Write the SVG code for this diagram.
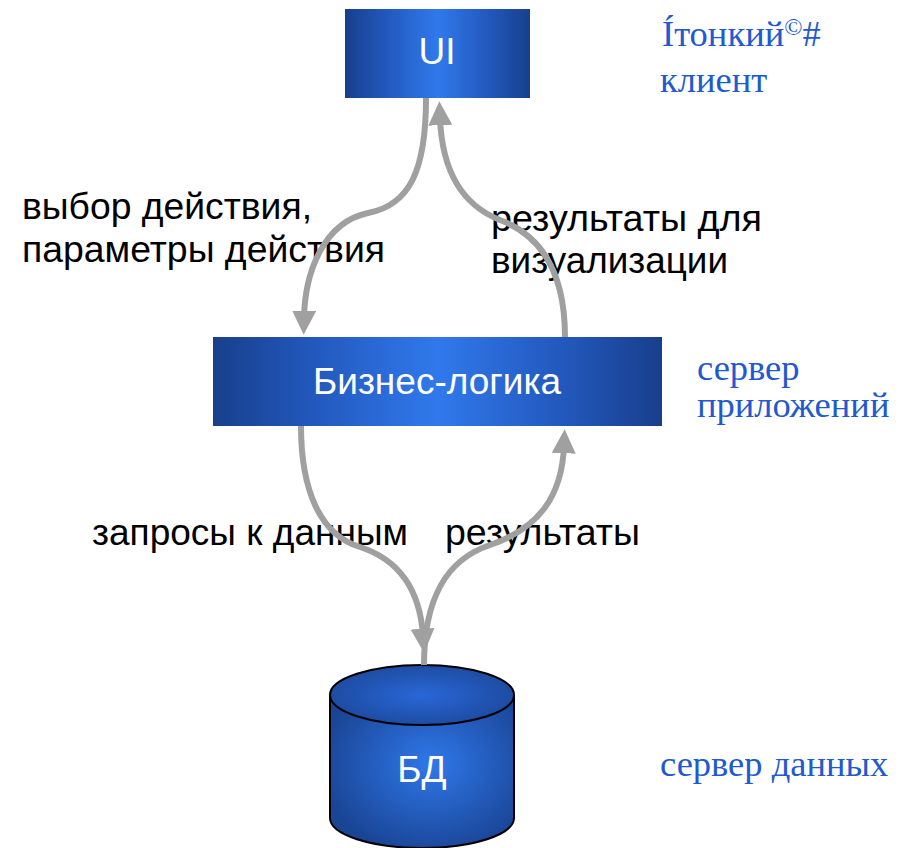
<svg xmlns="http://www.w3.org/2000/svg" width="915" height="848" viewBox="0 0 915 848">
<style>
.lbl{font-family:"Liberation Sans",Arial,sans-serif;font-size:37px;fill:#000}
.node{font-family:"Liberation Sans",Arial,sans-serif;font-size:37px;fill:#fff;text-anchor:middle}
.tier{font-family:"Liberation Serif","Times New Roman",serif;font-size:36.5px;fill:#2159cf}
.conn{fill:none;stroke:#a0a0a0;stroke-width:6}
</style>
<defs>
<linearGradient id="boxg" x1="0" y1="0" x2="1" y2="0">
<stop offset="0" stop-color="#183f8c"/>
<stop offset="0.22" stop-color="#2258bc"/>
<stop offset="0.5" stop-color="#3079ec"/>
<stop offset="0.78" stop-color="#2258bc"/>
<stop offset="1" stop-color="#183f8c"/>
</linearGradient>
<radialGradient id="cylg" cx="0.55" cy="0.45" r="0.6">
<stop offset="0" stop-color="#2f78ea"/>
<stop offset="1" stop-color="#1a4596"/>
</radialGradient>
<radialGradient id="topg" cx="0.5" cy="0.5" r="0.6">
<stop offset="0" stop-color="#2967d6"/>
<stop offset="1" stop-color="#1b4799"/>
</radialGradient>
<marker id="ah" viewBox="0 0 10 10" refX="3" refY="5" markerWidth="4" markerHeight="4" orient="auto">
<path d="M0,0 L10,5 L0,10 z" fill="#a0a0a0"/>
</marker>
</defs>
<g id="ui">
<rect x="345" y="9" width="185" height="89" fill="url(#boxg)"/>
<text class="node" x="437" y="64">UI</text>
</g>
<g id="logic">
<rect x="213" y="337" width="449" height="89" fill="url(#boxg)"/>
<text class="node" x="437" y="394">Бизнес-логика</text>
</g>
<g id="db">
<path d="M330,695 L330,818 A92,30 0 0 0 514,818 L514,695 Z" fill="url(#cylg)" stroke="#000" stroke-width="2"/>
<ellipse cx="422" cy="695" rx="92" ry="30" fill="url(#topg)" stroke="#000" stroke-width="2"/>
<text class="node" x="422" y="782">БД</text>
</g>
<g id="tiers">
<text class="tier" x="662" y="46">Íтонкий<tspan font-size="24" dy="-11">©</tspan><tspan dy="11">#</tspan></text>
<text class="tier" x="660" y="92">клиент</text>
<text class="tier" x="697" y="380">сервер</text>
<text class="tier" x="697" y="417">приложений</text>
<text class="tier" x="660" y="776">сервер данных</text>
</g>
<g id="labels">
<text class="lbl" x="22" y="219" textLength="290" lengthAdjust="spacingAndGlyphs">выбор действия,</text>
<text class="lbl" x="22" y="262" textLength="363" lengthAdjust="spacingAndGlyphs">параметры действия</text>
<text class="lbl" x="491" y="231" textLength="271" lengthAdjust="spacingAndGlyphs">результаты для</text>
<text class="lbl" x="491" y="273" textLength="237" lengthAdjust="spacingAndGlyphs">визуализации</text>
<text class="lbl" x="92" y="545" textLength="316" lengthAdjust="spacingAndGlyphs">запросы к данным</text>
<text class="lbl" x="445" y="545" textLength="195" lengthAdjust="spacingAndGlyphs">результаты</text>
</g>
<g id="connectors">
<path class="conn" d="M426,98 C426,170 410,205 368,213 C325,222 305,270 304,318" marker-end="url(#ah)"/>
<path class="conn" d="M565,337 C565,270 540,235 500,220 C462,205 442,170 440,118" marker-end="url(#ah)"/>
<path class="conn" d="M301,426 C301,490 320,535 360,547 C400,560 420,590 423,636" marker-end="url(#ah)"/>
<path class="conn" d="M424,665 C424,600 445,560 490,545 C540,528 562,495 564,446" marker-end="url(#ah)"/>
</g>
</svg>
